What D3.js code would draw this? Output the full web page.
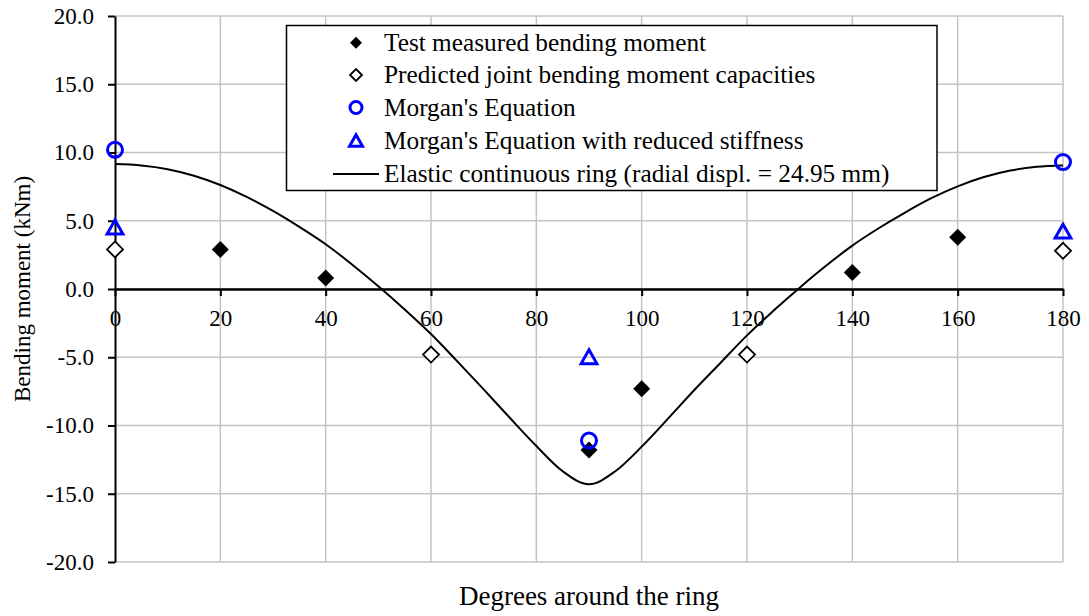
<!DOCTYPE html>
<html>
<head>
<meta charset="utf-8">
<script src="https://cdn.jsdelivr.net/npm/d3@7"></script>
<style>
  html, body { margin: 0; padding: 0; background: #fff; }
  svg { display: block; font-family: "Liberation Serif", "Times New Roman", serif; }
</style>
</head>
<body>
<svg id="chart" width="1089" height="616"></svg>
<script>
// Bending moment around the ring (degrees vs kNm)
const measuredDeg = [20, 40, 90, 100, 140, 160];
const measuredVal = [2.9, 0.8, -11.8, -7.3, 1.2, 3.8];

const predictedDeg = [0, 60, 120, 180];
const predictedVal = [2.9, -4.8, -4.8, 2.8];

const morganDeg = [0, 90, 180];
const morganVal = [10.2, -11.1, 9.3];

const reducedDeg = [0, 90, 180];
const reducedVal = [4.5, -5.0, 4.2];

const ringDeg = [0, 5, 10, 15, 20, 25, 30, 35, 40, 45, 50, 55, 60, 65, 70, 75, 80, 85, 90,
                 95, 100, 105, 110, 115, 120, 125, 130, 135, 140, 145, 150, 155, 160, 165, 170, 175, 180];
const ringVal = [9.15, 9.05, 8.78, 8.3, 7.62, 6.75, 5.72, 4.55, 3.28, 1.8, 0.2, -1.5, -3.3, -5.3, -7.35, -9.45, -11.5, -13.35, -14.3,
                 -13.35, -11.55, -9.5, -7.4, -5.4, -3.4, -1.6, 0.1, 1.7, 3.18, 4.45, 5.6, 6.65, 7.52, 8.2, 8.68, 8.95, 9.05];

const xTicks = [0, 20, 40, 60, 80, 100, 120, 140, 160, 180];
const yTicks = [-20, -15, -10, -5, 0, 5, 10, 15, 20];

const legendLabels = [
  "Test measured bending moment",
  "Predicted joint bending moment capacities",
  "Morgan's Equation",
  "Morgan's Equation with reduced stiffness",
  "Elastic continuous ring (radial displ. = 24.95 mm)"
];

const svg = d3.select("#chart");
const plotLeft = 115, plotRight = 1063, plotTop = 16, plotBottom = 562;
const serif = "Liberation Serif, Times New Roman, serif";

const x = d3.scaleLinear().domain([0, 180]).range([plotLeft, plotRight]);
const y = d3.scaleLinear().domain([-20, 20]).range([plotBottom, plotTop]);

const blue = "#0000ff";
const grid = "#c4c4c4";

// gridlines
svg.append("g").selectAll("line").data(yTicks).join("line")
  .attr("x1", plotLeft).attr("x2", plotRight)
  .attr("y1", d => y(d)).attr("y2", d => y(d))
  .attr("stroke", grid).attr("stroke-width", 1.5);
svg.append("g").selectAll("line").data(xTicks.filter(d => d > 0)).join("line")
  .attr("x1", d => x(d)).attr("x2", d => x(d))
  .attr("y1", plotTop).attr("y2", plotBottom)
  .attr("stroke", grid).attr("stroke-width", 1.5);

// y axis
const yAxis = svg.append("g").attr("transform", `translate(${plotLeft},0)`)
  .call(d3.axisLeft(y).tickValues(yTicks).tickSize(7).tickSizeOuter(0).tickPadding(14)
    .tickFormat(d => d.toFixed(1)));
yAxis.attr("font-family", serif);
yAxis.select(".domain").attr("stroke", "#000").attr("stroke-width", 2);
yAxis.selectAll(".tick line").attr("stroke", "#000").attr("stroke-width", 2);
yAxis.selectAll(".tick text").attr("font-size", 23).attr("fill", "#000");

// x axis on the zero line
const xAxis = svg.append("g").attr("transform", `translate(0,${y(0)})`)
  .call(d3.axisBottom(x).tickValues(xTicks).tickSize(7).tickSizeOuter(0).tickPadding(14));
xAxis.attr("font-family", serif);
xAxis.select(".domain").attr("stroke", "#000").attr("stroke-width", 2.5);
xAxis.selectAll(".tick line").attr("stroke", "#000").attr("stroke-width", 2);
xAxis.selectAll(".tick text").attr("font-size", 23).attr("fill", "#000");

// axis titles
svg.append("text").attr("x", (plotLeft + plotRight) / 2).attr("y", 605)
  .attr("text-anchor", "middle").attr("font-size", 27).text("Degrees around the ring");
svg.append("text").attr("transform", `translate(30,${(plotTop + plotBottom) / 2}) rotate(-90)`)
  .attr("text-anchor", "middle").attr("font-size", 23).text("Bending moment (kNm)");

// elastic ring curve
const ring = ringDeg.map((d, i) => [d, ringVal[i]]);
svg.append("path").datum(ring)
  .attr("fill", "none").attr("stroke", "#000").attr("stroke-width", 2)
  .attr("d", d3.line().x(d => x(d[0])).y(d => y(d[1])).curve(d3.curveMonotoneX));

const diamond = s => `M0,${-s}L${s},0L0,${s}L${-s},0Z`;
const triangle = s => `M0,${-s}L${s * 1.05},${s * 0.85}L${-s * 1.05},${s * 0.85}Z`;

// predicted (open diamonds)
svg.append("g").selectAll("path").data(predictedDeg).join("path")
  .attr("transform", (d, i) => `translate(${x(d)},${y(predictedVal[i])})`)
  .attr("d", diamond(8)).attr("fill", "#fff").attr("stroke", "#000").attr("stroke-width", 1.8);

// test measured (filled diamonds)
svg.append("g").selectAll("path").data(measuredDeg).join("path")
  .attr("transform", (d, i) => `translate(${x(d)},${y(measuredVal[i])})`)
  .attr("d", diamond(8.5)).attr("fill", "#000");

// reduced stiffness (triangles)
svg.append("g").selectAll("path").data(reducedDeg).join("path")
  .attr("transform", (d, i) => `translate(${x(d)},${y(reducedVal[i])})`)
  .attr("d", triangle(7.5)).attr("fill", "none").attr("stroke", blue).attr("stroke-width", 3)
  .attr("stroke-linejoin", "miter");

// Morgan (circles)
svg.append("g").selectAll("circle").data(morganDeg).join("circle")
  .attr("cx", d => x(d)).attr("cy", (d, i) => y(morganVal[i])).attr("r", 7.5)
  .attr("fill", "none").attr("stroke", blue).attr("stroke-width", 3);

// legend
const lg = svg.append("g");
lg.append("rect").attr("x", 286.5).attr("y", 25.5).attr("width", 650.5).attr("height", 165)
  .attr("fill", "#fff").attr("stroke", "#000").attr("stroke-width", 1.5);
const rowY = [42.7, 75, 107.5, 140.5, 174];
const mx = 356, tx = 384;
lg.append("path").attr("transform", `translate(${mx},${rowY[0]})`).attr("d", diamond(6)).attr("fill", "#000");
lg.append("path").attr("transform", `translate(${mx},${rowY[1]})`).attr("d", diamond(6))
  .attr("fill", "#fff").attr("stroke", "#000").attr("stroke-width", 1.8);
lg.append("circle").attr("cx", mx).attr("cy", rowY[2]).attr("r", 6)
  .attr("fill", "none").attr("stroke", blue).attr("stroke-width", 3);
lg.append("path").attr("transform", `translate(${mx},${rowY[3] + 0.5})`).attr("d", triangle(6.2))
  .attr("fill", "none").attr("stroke", blue).attr("stroke-width", 3);
lg.append("line").attr("x1", 333).attr("x2", 379).attr("y1", rowY[4]).attr("y2", rowY[4])
  .attr("stroke", "#000").attr("stroke-width", 2);
lg.selectAll("text").data(legendLabels).join("text")
  .attr("x", tx).attr("y", (d, i) => rowY[i]).attr("dy", "0.33em")
  .attr("font-size", 25.3).text(d => d);
</script>
</body>
</html>
